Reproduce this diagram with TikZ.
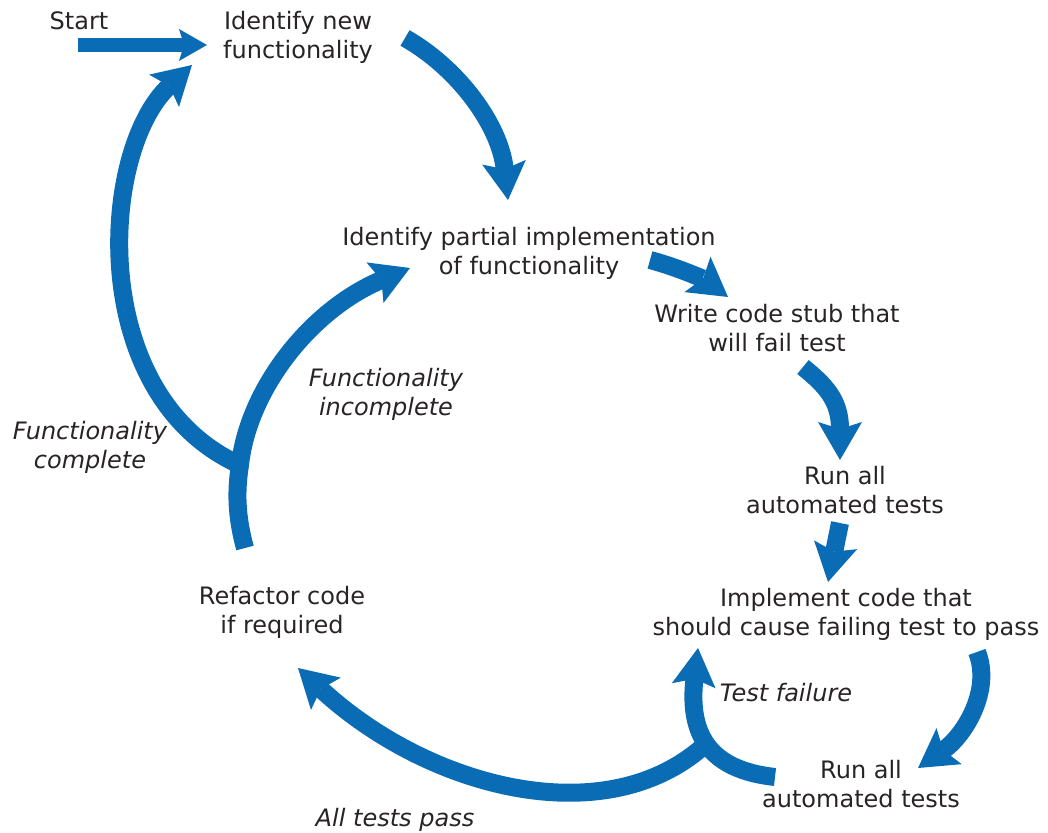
\documentclass[tikz,border=0pt]{standalone}
\usepackage{fontspec}
\setmainfont{DejaVu Sans}
\usetikzlibrary{arrows.meta}
\definecolor{flussblau}{RGB}{10,108,180}
\definecolor{textdunkel}{RGB}{40,36,38}

\begin{document}
\begin{tikzpicture}[x=0.5pt,y=-0.5pt,
  schritt/.style={align=center,inner sep=0pt,text=textdunkel,font=\fontsize{12}{14.6}\selectfont},
  bedingung/.style={schritt,font=\fontsize{12}{14.6}\selectfont\itshape},
  fluss/.style={draw=flussblau,line width=9pt,-{Stealth[length=19pt,width=22pt,inset=3.5pt,line width=0pt]}},
  einstieg/.style={draw=flussblau,line width=7pt,-{Stealth[length=14pt,width=16pt,inset=2.5pt,line width=0pt]}}]

\useasboundingbox (0,0) rectangle (1048,833);

% Schritte
\node[schritt] (start) at (79,21) {Start};
\node[schritt] (neu) at (298,37) {Identify new\\functionality};
\node[schritt] (teil) at (529,253) {Identify partial implementation\\of functionality};
\node[schritt] (stummel) at (777,328) {Write code stub that\\will fail test};
\node[schritt] (test1) at (845,490) {Run all\\automated tests};
\node[schritt] (umsetzen) at (846,614) {Implement code that\\should cause failing test to pass};
\node[schritt] (test2) at (861,784) {Run all\\automated tests};
\node[schritt] (refakt) at (282,612) {Refactor code\\if required};

% Bedingungen
\node[bedingung] (fertig) at (90,447) {Functionality\\complete};
\node[bedingung] (unfertig) at (386,394) {Functionality\\incomplete};
\node[bedingung] (fehler) at (786,693) {Test failure};
\node[bedingung] (bestanden) at (395,820) {All tests pass};

% Pfeilenden
\coordinate (s0) at (78,45);   \coordinate (s1) at (207,45);
\coordinate (a0) at (405,38);  \coordinate (a1) at (508,200);
\coordinate (b0) at (650,260); \coordinate (b1) at (728,297);
\coordinate (c0) at (803,367); \coordinate (c1) at (840,460);
\coordinate (d0) at (840,523); \coordinate (d1) at (828,582);
\coordinate (e0) at (977,652); \coordinate (e1) at (918,768);
\coordinate (f0) at (775,777); \coordinate (f1) at (698,648);
\coordinate (gabelU) at (708,742); \coordinate (g1) at (298,668);
\coordinate (h0) at (245,548); \coordinate (gabelL) at (240,465);
\coordinate (h1) at (410,268); \coordinate (k1) at (192,65);

% Pfeile
\draw[einstieg] (s0) -- (s1);
\draw[fluss] (a0) .. controls (458,68) and (500,125) .. (a1);
\draw[fluss] (b0) .. controls (680,268) and (705,280) .. (b1);
\draw[fluss] (c0) .. controls (825,385) and (840,400) .. (c1);
\draw[fluss] (d0) -- (d1);
\draw[fluss] (e0) .. controls (992,690) and (965,735) .. (e1);
\draw[fluss] (f0) .. controls (710,770) and (688,735) .. (f1);
\draw[fluss] (gabelU) .. controls (610,835) and (430,790) .. (g1);
\draw[fluss] (h0) .. controls (236,515) and (236,490) .. (gabelL)
    .. controls (248,390) and (310,310) .. (h1);
\draw[fluss] (gabelL) .. controls (85,395) and (100,150) .. (k1);

\end{tikzpicture}
\end{document}
